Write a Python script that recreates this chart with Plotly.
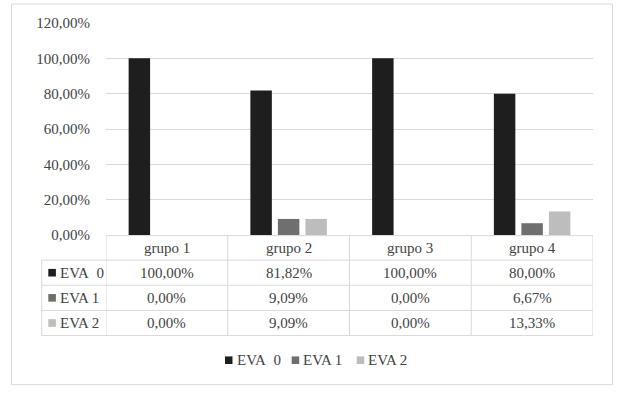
import plotly.graph_objects as go

categories = ["grupo 1", "grupo 2", "grupo 3", "grupo 4"]
series_names = ["EVA  0", "EVA 1", "EVA 2"]
eva0 = [1.0, 0.8182, 1.0, 0.80]
eva1 = [0.0, 0.0909, 0.0, 0.0667]
eva2 = [0.0, 0.0909, 0.0, 0.1333]
y_ticks = [0, 0.2, 0.4, 0.6, 0.8, 1.0, 1.2]
colors = ["#1e1e1e", "#6f6f6f", "#bdbdbd"]

series = [eva0, eva1, eva2]

W, H = 640, 393
L, R, T, B = 106, 47, 23, 157.5
plot_h = H - T - B
plot_w = W - L - R
cat_w = plot_w / len(categories)

FONT = "Liberation Serif"
FS = 15
TXT = "#434343"
GRID = "#d9d9d9"


def py(p):
    """pixel y -> paper y"""
    return (H - B - p) / plot_h


def px(p):
    """pixel x -> paper x"""
    return (p - L) / plot_w


def fmt(v):
    return f"{v*100:.2f}".replace(".", ",") + "%"


fig = go.Figure()
for name, vals, col in zip(series_names, series, colors):
    fig.add_trace(go.Bar(x=categories, y=vals, name=name, marker_color=col,
                         marker_line_width=0, hoverinfo="skip", showlegend=False))

row_h = 25.2 / plot_h
xl = px(41.7)
xr = len(categories) - 0.5
n_rows = len(series) + 1

shapes = []
line = dict(color=GRID, width=1)
# outer border
shapes.append(dict(type="rect", xref="paper", yref="paper",
                   x0=px(11.5), x1=px(612.5), y0=py(385.5), y1=py(4),
                   line=line, fillcolor="rgba(0,0,0,0)", layer="below"))
# table horizontal lines
shapes.append(dict(type="line", xref="x", yref="paper", x0=-0.5, x1=xr,
                   y0=-0.003, y1=-0.003, line=line))
for k in range(1, n_rows + 1):
    shapes.append(dict(type="line", xref="paper", yref="paper", x0=xl, x1=1,
                       y0=-k * row_h, y1=-k * row_h, line=line))
# table vertical lines
for i in range(len(categories) + 1):
    shapes.append(dict(type="line", xref="x", yref="paper", x0=i - 0.5, x1=i - 0.5,
                       y0=0, y1=-n_rows * row_h, line=line))
shapes.append(dict(type="line", xref="paper", yref="paper", x0=xl, x1=xl,
                   y0=-row_h, y1=-n_rows * row_h, line=line))

annotations = []
tfont = dict(family=FONT, size=FS, color=TXT)
for c in categories:
    annotations.append(dict(x=c, y=-0.5 * row_h, xref="x", yref="paper",
                            text=c, showarrow=False, xanchor="center", yanchor="middle",
                            font=tfont))
for r, (name, vals, col) in enumerate(zip(series_names, series, colors)):
    yc = -(r + 1.5) * row_h
    shapes.append(dict(type="rect", xref="paper", yref="paper", xsizemode="pixel",
                       ysizemode="pixel", xanchor=xl, yanchor=yc,
                       x0=6.6, x1=14.2, y0=-3.8, y1=3.8,
                       fillcolor=col, line=dict(width=0)))
    annotations.append(dict(x=xl, y=yc, xref="paper", yref="paper", xshift=16,
                            text=name.replace("  ", "&nbsp; "), showarrow=False,
                            xanchor="left", yanchor="middle", font=tfont))
    for c, v in zip(categories, vals):
        annotations.append(dict(x=c, y=yc, xref="x", yref="paper",
                                text=fmt(v), showarrow=False, xanchor="center",
                                yanchor="middle", font=tfont))

# legend (Excel-style, compact)
leg_x = [225.0, 291.7, 356.7]
leg_y = py(361)
for lx, name, col in zip(leg_x, series_names, colors):
    shapes.append(dict(type="rect", xref="paper", yref="paper", xsizemode="pixel",
                       ysizemode="pixel", xanchor=px(lx), yanchor=leg_y,
                       x0=0, x1=7.5, y0=-3.8, y1=3.8,
                       fillcolor=col, line=dict(width=0)))
    annotations.append(dict(x=px(lx), y=leg_y, xref="paper", yref="paper", xshift=9.5,
                            text=name.replace("  ", "&nbsp; "), showarrow=False,
                            xanchor="left", yanchor="middle", font=tfont))

fig.update_layout(
    width=W, height=H,
    margin=dict(l=L, r=R, t=T, b=B, pad=0),
    paper_bgcolor="white", plot_bgcolor="white",
    barmode="group", bargap=0.322, bargroupgap=0.22,
    separators=",.",
    showlegend=False,
    hovermode=False,
    shapes=shapes, annotations=annotations,
    xaxis=dict(type="category", range=[-0.5, xr], showticklabels=False,
               showgrid=False, zeroline=False, showline=False, fixedrange=True),
    yaxis=dict(range=[0, 1.2], tickvals=y_ticks, tickformat=".2%",
               gridcolor=GRID, gridwidth=1, zeroline=False, showline=False,
               ticklabelstandoff=15, tickfont=tfont, fixedrange=True),
)

fig.write_html("out.html", config={"displayModeBar": False, "staticPlot": True},
               post_script="document.body.style.margin='0';")
